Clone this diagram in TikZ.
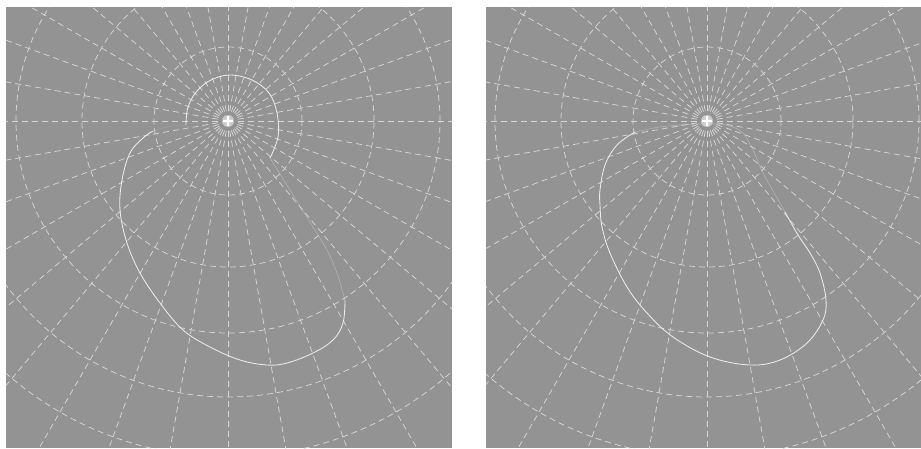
\documentclass[tikz,border=0pt]{standalone}
\usetikzlibrary{calc}
\definecolor{panelgray}{HTML}{939393}
\definecolor{gridc}{HTML}{D6D6D6}
\definecolor{curvec}{HTML}{ECECEC}
\tikzset{
  gridline/.style={draw=gridc, line width=0.75pt, dash pattern=on 6pt off 4pt},
  orbit/.style={draw=curvec, line width=0.85pt, line cap=round},
  faintorbit/.style={draw=curvec, line width=0.6pt, opacity=0.35, line cap=round},
  marker/.style={draw=white, line width=1.6pt},
  panel/.style={fill=panelgray, draw=none}
}
\begin{document}
\begin{tikzpicture}[x=1pt,y=-1pt]
\useasboundingbox (0,0) rectangle (921,448);
\fill[white] (0,0) rectangle (921,448);
% ---------- left panel ----------
\coordinate (cL) at (228,121);
\fill[panel] (6,7) rectangle (452,448);
\begin{scope}
  \clip (6,7) rectangle (452,448);
  \foreach \a in {0,10,...,350} \draw[gridline] (cL) -- ++(\a:460);
  \foreach \r in {74,146,212,276,336} \draw[gridline] (cL) circle[radius=\r pt];
  % inner spiral
  \draw[orbit] plot[smooth, tension=0.6] coordinates {(186,125) (188,107) (197,91) (211,80) (230,75) (252,80) (269,93) (277,113) (278,137) (270,158)};
  % fast, faint part
  \draw[faintorbit] plot[smooth, tension=0.6] coordinates {(270,158) (290,190) (313,227) (327,250) (337,273) (343,293) (345,300)};
  % outer loop
  \draw[orbit] plot[smooth, tension=0.6] coordinates {(345,300) (343,323) (333,340) (313,353) (287,363) (267,365) (240,360) (210,347) (183,330) (160,303) (140,273) (127,243) (120,210) (122,180) (130,153) (143,138) (153,131)};
  \draw[faintorbit, opacity=0.12] plot[smooth, tension=0.6] coordinates {(153,131) (170,126) (186,125)};
  \draw[marker] ($(cL)+(-5,0)$) -- ($(cL)+(5,0)$);
  \draw[marker] ($(cL)+(0,-5)$) -- ($(cL)+(0,5)$);
\end{scope}
% ---------- right panel ----------
\coordinate (cR) at (707,121);
\fill[panel] (486,7) rectangle (921,448);
\begin{scope}
  \clip (486,7) rectangle (921,448);
  \foreach \a in {0,10,...,350} \draw[gridline] (cR) -- ++(\a:460);
  \foreach \r in {74,146,212,276,336} \draw[gridline] (cR) circle[radius=\r pt];
  \draw[faintorbit] plot[smooth, tension=0.6] coordinates {(720,124) (700,124) (680,125) (660,127) (635,132)};
  \draw[orbit] plot[smooth, tension=0.6] coordinates {(635,132) (617,145) (605,165) (600,190) (600,205) (602,227) (610,253) (627,287) (647,313) (673,337) (710,357) (750,365) (780,360) (807,343) (823,320) (826,300) (820,273) (810,253) (798,235) (785,212)};
  \draw[faintorbit] plot[smooth, tension=0.6] coordinates {(785,212) (780,203) (763,173) (753,150) (743,133) (730,126) (720,124)};
  \draw[marker] ($(cR)+(-5,0)$) -- ($(cR)+(5,0)$);
  \draw[marker] ($(cR)+(0,-5)$) -- ($(cR)+(0,5)$);
\end{scope}
\end{tikzpicture}
\end{document}
